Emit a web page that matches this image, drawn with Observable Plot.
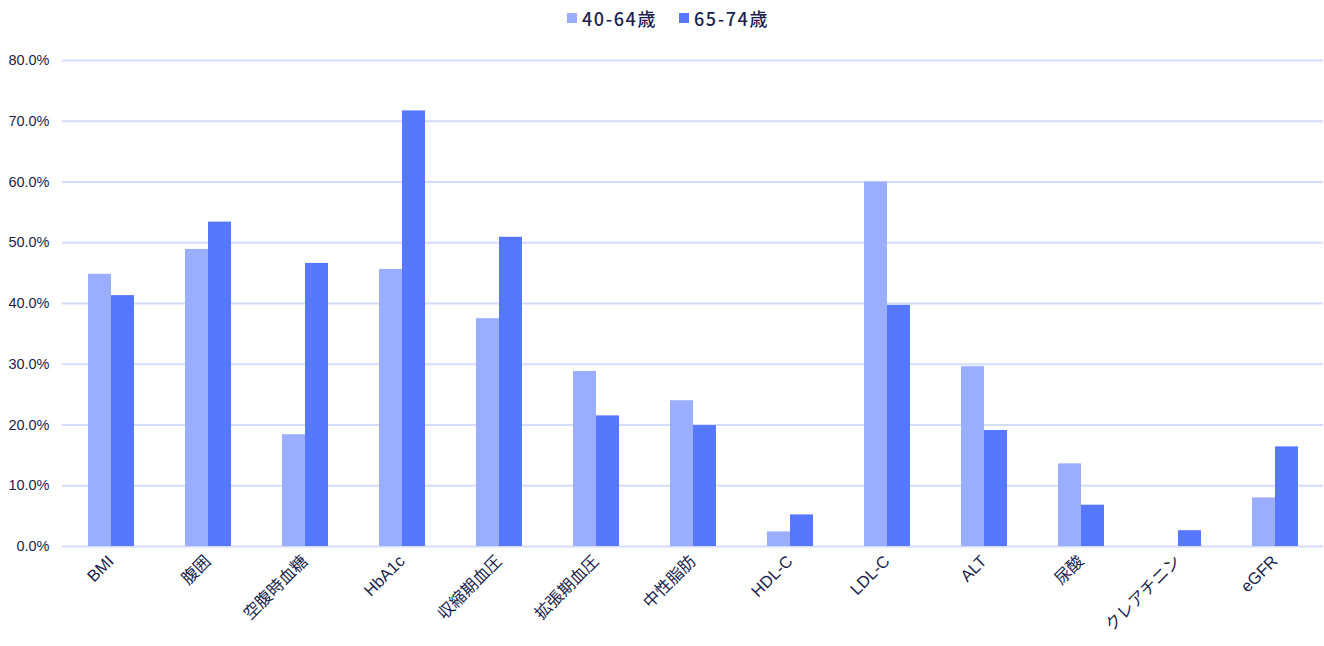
<!DOCTYPE html>
<html><head><meta charset="utf-8">
<script src="https://cdn.jsdelivr.net/npm/d3@7"></script>
<script src="https://cdn.jsdelivr.net/npm/@observablehq/plot@0.6"></script>
<style>
body{margin:0;background:#fff;font-family:"Liberation Sans","Noto Sans CJK JP",sans-serif;}
#legend{height:35px;display:flex;justify-content:center;align-items:center;gap:22px;font-family:"Noto Sans CJK JP",sans-serif;font-size:18px;color:#1a1f4d;font-weight:500;letter-spacing:1.6px;padding-left:12px;box-sizing:border-box;}
#legend span.sw{display:inline-block;width:10px;height:10px;margin-right:5px;}
#legend div{display:flex;align-items:center;}
</style></head>
<body>
<div id="legend"></div>
<div id="chart"></div>
<script>
const categories = ["BMI","腹囲","空腹時血糖","HbA1c","収縮期血圧","拡張期血圧","中性脂肪","HDL-C","LDL-C","ALT","尿酸","クレアチニン","eGFR"];
const seriesNames = ["40-64歳","65-74歳"];
const values4064 = [44.8,48.9,18.4,45.6,37.5,28.8,24.0,2.4,60.0,29.6,13.6,null,8.0];
const values6574 = [41.3,53.4,46.6,71.7,50.9,21.5,19.9,5.2,39.7,19.1,6.8,2.6,16.4];
const colors = ["#9aadff","#5677ff"];
const yTicks = [0,10,20,30,40,50,60,70,80];

const data = [];
categories.forEach((c,i)=>{
  data.push({cat:c, series:seriesNames[0], v:values4064[i]});
  data.push({cat:c, series:seriesNames[1], v:values6574[i]});
});

const legend = document.getElementById("legend");
seriesNames.forEach((s,i)=>{
  const d = document.createElement("div");
  d.innerHTML = `<span class="sw" style="background:${colors[i]}"></span>${s}`;
  legend.appendChild(d);
});

const chart = Plot.plot({
  width:1324, height:611,
  marginLeft:61, marginRight:0, marginTop:25, marginBottom:100,
  style:{fontFamily:'"Liberation Sans","Noto Sans CJK JP",sans-serif', fontSize:"14px", color:"#1a1f4d"},
  fx:{domain:categories, padding:0, label:null},
  x:{domain:seriesNames, paddingInner:0, paddingOuter:1.05, axis:null},
  y:{domain:[0,80], label:null},
  color:{domain:seriesNames, range:colors},
  marks:[
    Plot.gridY(yTicks,{stroke:"#d3dcfb", strokeOpacity:1, strokeWidth:2}),
    Plot.axisY(yTicks,{tickSize:0, tickPadding:13, tickFormat:d=>d.toFixed(1)+"%", fontSize:14.5, fill:"#1a1f4d", label:null}),
    Plot.axisFx({anchor:"bottom", tickSize:0, tickRotate:-45, tickPadding:12, fontSize:16.5, fill:"#1a1f4d", label:null}),
    Plot.barY(data.filter(d=>d.v!=null),{fx:"cat", x:"series", y:"v", fill:"series"})
  ]
});
document.getElementById("chart").appendChild(chart);
</script>
</body></html>
